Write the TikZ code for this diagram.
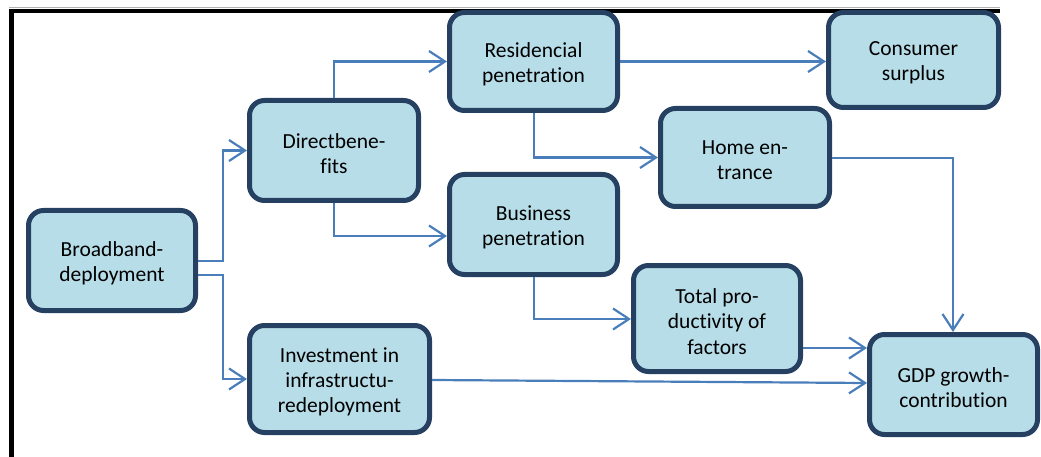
\documentclass[tikz,border=0pt]{standalone}
\usepackage{fontspec}
\setmainfont[Ligatures={NoCommon,NoContextual}]{Carlito}
\usetikzlibrary{arrows.meta}
\definecolor{boxfill}{HTML}{B7DDE8}
\definecolor{boxline}{HTML}{254061}
\definecolor{arrowc}{HTML}{4A7EBB}
\begin{document}
\begin{tikzpicture}[x=1pt,y=-1pt,
  box/.style={draw=boxline, line width=5pt, fill=boxfill, rounded corners=15pt,
    inner sep=0pt},
  lab/.style={align=center, inner sep=0pt, yshift=-3pt,
    font=\fontsize{21.5}{25.3}\selectfont, text=black},
  conn/.style={draw=arrowc, line width=2.2pt,
    -{Straight Barb[length=16pt,width=21pt,line width=2.2pt]}}]
\useasboundingbox (0,0) rectangle (1041,457);
% frame
\draw[gray!60, line width=1pt] (9,7.5) -- (1000,7.5);
\draw[black, line width=4.5pt] (9,11) -- (1000,11);
\draw[black, line width=5pt] (11.5,9) -- (11.5,457);
% nodes
\node[box, minimum width=167pt, minimum height=100pt, label={[lab]center:Broadband-\\deployment}] (bb) at (112,260.5) {};
\node[box, minimum width=169pt, minimum height=100pt, label={[lab]center:Directbene-\\fits}] (db) at (334,150.5) {};
\node[box, minimum width=168pt, minimum height=98pt, label={[lab]center:Residencial\\penetration}] (rp) at (533.5,61.5) {};
\node[box, minimum width=170pt, minimum height=95pt, label={[lab]center:Consumer\\surplus}] (cs) at (913.5,60) {};
\node[box, minimum width=169pt, minimum height=98pt, label={[lab]center:Home en-\\trance}] (he) at (745,157.5) {};
\node[box, minimum width=168pt, minimum height=100pt, label={[lab]center:Business\\penetration}] (bp) at (533.5,224.5) {};
\node[box, minimum width=167pt, minimum height=106pt, label={[lab]center:Total pro-\\ductivity of\\factors}] (tp) at (717,318.5) {};
\node[box, minimum width=180pt, minimum height=107pt, label={[lab]center:Investment in\\infrastructu-\\redeployment}] (iv) at (339.5,379) {};
\node[box, minimum width=168pt, minimum height=100pt, label={[lab]center:GDP growth-\\contribution}] (gdp) at (953.5,384.5) {};
% connectors
\coordinate (c1) at (223,261);
\coordinate (c2) at (223,275);
\draw[conn] (bb.east |- c1) -- (c1) |- (db.west);
\draw[conn] (bb.east |- c2) -- (c2) |- (iv.west);
\draw[conn] (db.north) |- (rp.west);
\coordinate (c3) at (334,236);
\draw[conn] (db.south) -- (c3) -- (bp.west |- c3);
\draw[conn] (rp.east) -- (cs.west |- rp.east);
\coordinate (c4) at (534,157.5);
\draw[conn] (rp.south -| c4) -- (c4) -- (he.west |- c4);
\coordinate (c5) at (953,158);
\draw[conn] (he.east |- c5) -- (c5) -- (gdp.north -| c5);
\coordinate (c6) at (534,319);
\draw[conn] (bp.south -| c6) -- (c6) -- (tp.west |- c6);
\coordinate (c7) at (803,348);
\draw[conn] (tp.east |- c7) -- (gdp.west |- c7);
\coordinate (c8) at (432,380);
\coordinate (c9) at (867,383);
\draw[conn] (iv.east |- c8) -- (gdp.west |- c9);
\end{tikzpicture}
\end{document}
